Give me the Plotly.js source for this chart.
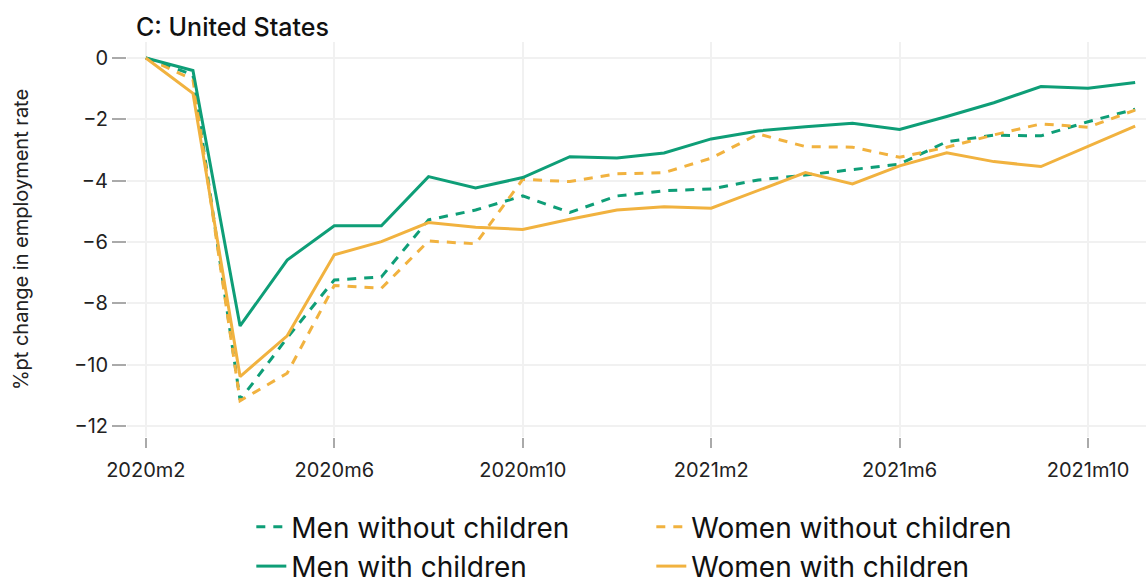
<!DOCTYPE html>
<html>
<head>
<meta charset="utf-8">
<script src="https://cdn.plot.ly/plotly-3.0.1.min.js"></script>
<style>html,body{margin:0;padding:0;background:#fff;}#chart{width:1146px;height:583px;}</style>
</head>
<body>
<div id="chart"></div>
<script>
const months = ["2020m2","2020m3","2020m4","2020m5","2020m6","2020m7","2020m8","2020m9","2020m10","2020m11","2020m12",
  "2021m1","2021m2","2021m3","2021m4","2021m5","2021m6","2021m7","2021m8","2021m9","2021m10","2021m11"];
const tickLabels = ["2020m2","2020m6","2020m10","2021m2","2021m6","2021m10"];

const menWithout   = [0,-0.55,-11.15,-9.13,-7.24,-7.14,-5.28,-4.96,-4.5,-5.04,-4.5,-4.33,-4.27,-3.98,-3.82,-3.63,-3.46,-2.73,-2.52,-2.54,-2.08,-1.67];
const womenWithout = [0,-0.7,-11.18,-10.28,-7.42,-7.51,-5.97,-6.06,-3.96,-4.03,-3.78,-3.74,-3.27,-2.48,-2.89,-2.91,-3.24,-2.91,-2.51,-2.15,-2.26,-1.7];
const menWith      = [0,-0.41,-8.74,-6.59,-5.47,-5.47,-3.87,-4.24,-3.9,-3.22,-3.26,-3.1,-2.64,-2.38,-2.24,-2.13,-2.33,-1.91,-1.46,-0.93,-0.99,-0.8];
const womenWith    = [0,-1.15,-10.39,-9.06,-6.42,-5.99,-5.37,-5.52,-5.59,-5.26,-4.96,-4.85,-4.9,-4.33,-3.74,-4.11,-3.52,-3.09,-3.38,-3.54,-2.89,-2.22];

const green = '#0e9e77';
const orange = '#f1b23f';
const xIdx = months.map((m,i)=>i);
const tickIdx = tickLabels.map(t=>months.indexOf(t));

function tr(name, y, color, dashed){
  return {x:xIdx, y:y, name:name, type:'scatter', mode:'lines',
    text: months, hovertemplate:'%{text}: %{y}<extra>'+name+'</extra>',
    line:{color:color, width:3, dash: dashed ? '9px,8px' : 'solid'}};
}
const data = [
  tr('Men without children', menWithout, green, true),
  tr('Women without children', womenWithout, orange, true),
  tr('Men with children', menWith, green, false),
  tr('Women with children', womenWith, orange, false)
];
const layout = {
  width:1146, height:583,
  margin:{l:127, r:0, t:42, b:146},
  paper_bgcolor:'#fff', plot_bgcolor:'#fff',
  font:{family:'Inter, "DejaVu Sans", sans-serif', color:'#222'},
  title:{text:'C: United States', x:136/1146, xanchor:'left', y:1-27/583, yanchor:'middle',
    font:{size:25, color:'#111', weight:500}},
  xaxis:{range:[-0.4,21.23], tickvals:tickIdx, ticktext:tickLabels, showgrid:true, gridcolor:'#f1f1f1', gridwidth:2,
    zeroline:false, showline:false, ticks:'outside', ticklen:10, tickwidth:1.5, tickcolor:'#aaa',
    ticklabelstandoff:5, tickfont:{size:20, color:'#222'}},
  yaxis:{range:[-12.36,0.52], tickvals:[0,-2,-4,-6,-8,-10,-12], showgrid:true, gridcolor:'#f1f1f1', gridwidth:2,
    zeroline:false, showline:false, ticks:'outside', ticklen:14, tickwidth:1.5, tickcolor:'#aaa',
    tickfont:{size:20, color:'#222'},
    title:{text:'%pt change in employment rate', font:{size:20, color:'#222'}, standoff:40}},
  showlegend:true,
  legend:{orientation:'h', xref:'paper', x:0.122, xanchor:'left', yref:'container', y:(583-502)/583, yanchor:'top',
    entrywidth:355, entrywidthmode:'pixels',
    font:{size:28, color:'#111'}, traceorder:'normal', itemwidth:30},
  hovermode:'closest'
};
Plotly.newPlot('chart', data, layout, {displayModeBar:false});
</script>
</body>
</html>
